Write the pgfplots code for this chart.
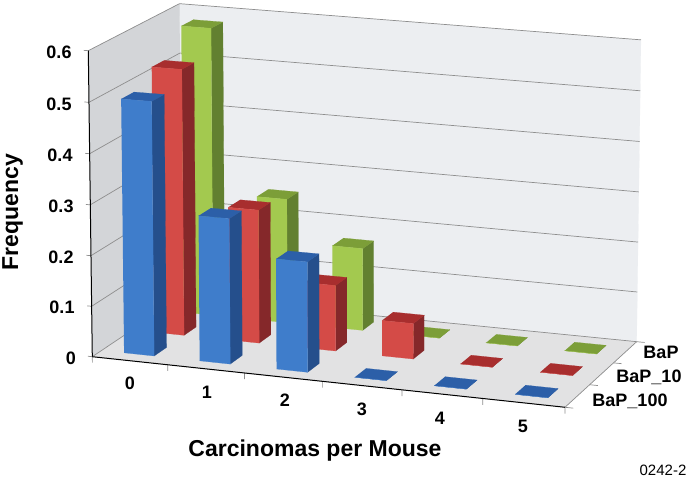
\documentclass[border=0pt]{standalone}
\usepackage{fontspec}
\setmainfont{Liberation Sans}
\usepackage{pgfplots}
\pgfplotsset{compat=1.18}
\definecolor{wallB}{HTML}{ECEEF1}\definecolor{wallL}{HTML}{D3D5D8}\definecolor{floorc}{HTML}{E2E2E3}
\definecolor{gridc}{HTML}{8E8E8E}
\definecolor{bF}{HTML}{3F7DCB}\definecolor{bT}{HTML}{2C5FA8}\definecolor{bS}{HTML}{254F8C}
\definecolor{rF}{HTML}{D44B47}\definecolor{rT}{HTML}{A82E2E}\definecolor{rS}{HTML}{85282A}
\definecolor{gF}{HTML}{A3C94F}\definecolor{gT}{HTML}{7C9E38}\definecolor{gS}{HTML}{628030}
\gdef\plist{}
% projection of (category, row, frequency) on to the page
\newcommand\Pt[3]{%
  \pgfmathsetmacro\myu{(#1)/6}\pgfmathsetmacro\myv{(#2)/3}\pgfmathsetmacro\myw{(#3)/0.6}%
  \pgfmathsetmacro\myd{1-0.04966*\myu+0.04741*\myv-0.015*\myw}%
  \pgfmathsetmacro\myx{(92.3+444.64*\myu+98.33*\myv-5.32*\myw)/\myd}%
  \pgfmathsetmacro\myy{(356.7+30.37*\myu-46.14*\myv-306.76*\myw+5*\myu*\myv*\myw)/\myd}%
  \xdef\plist{\plist(\myx,\myy)}}
\newcommand\Face[1]{\edef\mytmp{\noexpand\addplot[fill=#1,draw=#1,line width=0.2pt,mark=none,forget plot] coordinates {\plist};}\mytmp\gdef\plist{}}
\newcommand\Stroke[2]{\edef\mytmp{\noexpand\addplot[draw=#1,line width=#2,mark=none,forget plot] coordinates {\plist};}\mytmp\gdef\plist{}}
\newcommand\Seg[8]{\Pt{#1}{#2}{#3}\Pt{#4}{#5}{#6}\Stroke{#7}{#8}}
% one bar: category, row, value, colours
\newcommand\DrawBar[6]{%
  \pgfmathsetmacro\bxa{#1+0.30}\pgfmathsetmacro\bxb{#1+0.70}%
  \pgfmathsetmacro\bya{#2+0.30}\pgfmathsetmacro\byb{#2+0.71}%
  \Pt{\bxb}{\bya}{0}\Pt{\bxb}{\byb}{0}\Pt{\bxb}{\byb}{#3}\Pt{\bxb}{\bya}{#3}\Face{#6}%
  \Pt{\bxa}{\bya}{#3}\Pt{\bxb}{\bya}{#3}\Pt{\bxb}{\byb}{#3}\Pt{\bxa}{\byb}{#3}\Face{#5}%
  \Pt{\bxa}{\bya}{0}\Pt{\bxb}{\bya}{0}\Pt{\bxb}{\bya}{#3}\Pt{\bxa}{\bya}{#3}\Face{#4}}
\newcommand\Lab[4]{\node[font=\bfseries\fontsize{#4}{#4}\selectfont,inner sep=0pt,anchor=center] at (axis cs:#1,#2) {#3};}
\begin{document}
\begin{tikzpicture}
\path[use as bounding box] (0,0) rectangle (689pt,481pt);
\begin{axis}[at={(0,0)},anchor=south west,scale only axis,width=689pt,height=481pt,
  xmin=0,xmax=689,ymin=0,ymax=481,y dir=reverse,hide axis,clip=false]
% walls and floor
\Pt{0}{3}{0}\Pt{6}{3}{0}\Pt{6}{3}{0.6}\Pt{0}{3}{0.6}\Face{wallB}
\Pt{0}{0}{0}\Pt{0}{3}{0}\Pt{0}{3}{0.6}\Pt{0}{0}{0.6}\Face{wallL}
\Pt{0}{0}{0}\Pt{6}{0}{0}\Pt{6}{3}{0}\Pt{0}{3}{0}\Face{floorc}
% gridlines
\Seg{0}{3}{0.1}{6}{3}{0.1}{gridc}{0.7pt}
\Seg{0}{3}{0.2}{6}{3}{0.2}{gridc}{0.7pt}
\Seg{0}{3}{0.3}{6}{3}{0.3}{gridc}{0.7pt}
\Seg{0}{3}{0.4}{6}{3}{0.4}{gridc}{0.7pt}
\Seg{0}{3}{0.5}{6}{3}{0.5}{gridc}{0.7pt}
\Seg{0}{3}{0.6}{6}{3}{0.6}{gridc}{0.7pt}
\Seg{0}{3}{0}{6}{3}{0}{gridc}{0.7pt}
\Seg{0}{0}{0.1}{0}{3}{0.1}{gridc}{0.7pt}
\Seg{0}{0}{0.2}{0}{3}{0.2}{gridc}{0.7pt}
\Seg{0}{0}{0.3}{0}{3}{0.3}{gridc}{0.7pt}
\Seg{0}{0}{0.4}{0}{3}{0.4}{gridc}{0.7pt}
\Seg{0}{0}{0.5}{0}{3}{0.5}{gridc}{0.7pt}
\Seg{0}{0}{0.6}{0}{3}{0.6}{gridc}{0.7pt}
\Seg{0}{0}{0}{0}{3}{0}{gridc}{0.7pt}
\Seg{6}{0}{0}{6}{3}{0}{gridc}{0.7pt}
% ticks
\Seg{0}{0}{0}{-0.06}{0}{0}{gridc}{0.7pt}
\Seg{0}{0}{0.1}{-0.06}{0}{0.1}{gridc}{0.7pt}
\Seg{0}{0}{0.2}{-0.06}{0}{0.2}{gridc}{0.7pt}
\Seg{0}{0}{0.3}{-0.06}{0}{0.3}{gridc}{0.7pt}
\Seg{0}{0}{0.4}{-0.06}{0}{0.4}{gridc}{0.7pt}
\Seg{0}{0}{0.5}{-0.06}{0}{0.5}{gridc}{0.7pt}
\Seg{0}{0}{0.6}{-0.06}{0}{0.6}{gridc}{0.7pt}
\Seg{0}{0}{0}{0}{0}{-0.012}{gridc}{0.7pt}
\Seg{1}{0}{0}{1}{0}{-0.012}{gridc}{0.7pt}
\Seg{2}{0}{0}{2}{0}{-0.012}{gridc}{0.7pt}
\Seg{3}{0}{0}{3}{0}{-0.012}{gridc}{0.7pt}
\Seg{4}{0}{0}{4}{0}{-0.012}{gridc}{0.7pt}
\Seg{5}{0}{0}{5}{0}{-0.012}{gridc}{0.7pt}
\Seg{6}{0}{0}{6}{0}{-0.012}{gridc}{0.7pt}
\Seg{6}{0}{0}{6.1}{0}{0}{gridc}{0.7pt}
\Seg{6}{1}{0}{6.1}{1}{0}{gridc}{0.7pt}
\Seg{6}{2}{0}{6.1}{2}{0}{gridc}{0.7pt}
\Seg{6}{3}{0}{6.1}{3}{0}{gridc}{0.7pt}
% BaP
\DrawBar{0}{2}{0.58}{gF}{gT}{gS}
\DrawBar{1}{2}{0.25}{gF}{gT}{gS}
\DrawBar{2}{2}{0.165}{gF}{gT}{gS}
\DrawBar{3}{2}{0}{gF}{gT}{gS}
\DrawBar{4}{2}{0}{gF}{gT}{gS}
\DrawBar{5}{2}{0}{gF}{gT}{gS}
% BaP_10
\DrawBar{0}{1}{0.53}{rF}{rT}{rS}
\DrawBar{1}{1}{0.265}{rF}{rT}{rS}
\DrawBar{2}{1}{0.13}{rF}{rT}{rS}
\DrawBar{3}{1}{0.07}{rF}{rT}{rS}
\DrawBar{4}{1}{0}{rF}{rT}{rS}
\DrawBar{5}{1}{0}{rF}{rT}{rS}
% BaP_100
\DrawBar{0}{0}{0.5}{bF}{bT}{bS}
\DrawBar{1}{0}{0.285}{bF}{bT}{bS}
\DrawBar{2}{0}{0.215}{bF}{bT}{bS}
\DrawBar{3}{0}{0}{bF}{bT}{bS}
\DrawBar{4}{0}{0}{bF}{bT}{bS}
\DrawBar{5}{0}{0}{bF}{bT}{bS}
% axis lines
\Seg{0}{0}{0}{0}{0}{0.6}{black}{1pt}
\Seg{0}{0}{0}{6}{0}{0}{black}{1pt}
% labels
\Lab{59}{52}{0.6}{18}\Lab{59}{104}{0.5}{18}\Lab{60}{155}{0.4}{18}
\Lab{61}{206}{0.3}{18}\Lab{61}{257}{0.2}{18}\Lab{62}{307}{0.1}{18}\Lab{71}{358}{0}{18}
\Lab{130}{383}{0}{18}\Lab{207}{392}{1}{18}\Lab{285}{400}{2}{18}
\Lab{362}{409}{3}{18}\Lab{440}{418}{4}{18}\Lab{523}{426}{5}{18}
\Lab{661}{352}{BaP}{18}\Lab{649}{377}{BaP\_10}{18}\Lab{630}{401}{BaP\_100}{18}
\Lab{315}{451}{Carcinomas per Mouse}{23}
\node[rotate=90,font=\bfseries\fontsize{23}{23}\selectfont,inner sep=0pt,anchor=center] at (axis cs:12.5,212) {Frequency};
\node[font=\fontsize{15}{15}\selectfont,inner sep=0pt,anchor=center] at (axis cs:663,470) {0242-2};
\end{axis}
\end{tikzpicture}
\end{document}
